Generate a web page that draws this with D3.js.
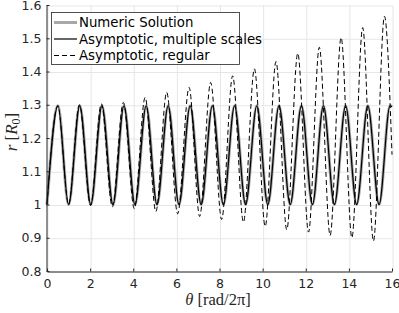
<!DOCTYPE html>
<html>
<head>
<meta charset="utf-8">
<script src="https://cdnjs.cloudflare.com/ajax/libs/d3/7.8.5/d3.min.js"></script>
<style>
  body { margin: 0; background: #fff; }
  svg { display: block; }
</style>
</head>
<body>
<div id="chart"></div>
<script>
// extrema (theta in rad/2pi, r in R0)
var numericTheta = [0, 0.51, 1.0, 1.52, 2.03, 2.55, 3.06, 3.57, 4.08, 4.6, 5.1, 5.62, 6.12, 6.64, 7.15, 7.67, 8.18, 8.7, 9.21, 9.73, 10.24, 10.76, 11.28, 11.8, 12.31, 12.82, 13.33, 13.85, 14.36, 14.88, 15.4, 15.91, 16];
var numericR = [1.0, 1.297, 1.0, 1.297, 1.0, 1.297, 1.0, 1.297, 1.0, 1.297, 1.0, 1.297, 1.0, 1.297, 1.0, 1.297, 1.0, 1.297, 1.0, 1.297, 1.0, 1.297, 1.0, 1.297, 1.0, 1.297, 1.0, 1.297, 1.0, 1.297, 1.0, 1.297, 1.294];

var multiTheta = [0, 0.51, 1.0, 1.52, 2.03, 2.55, 3.06, 3.57, 4.08, 4.6, 5.1, 5.62, 6.12, 6.64, 7.15, 7.67, 8.18, 8.7, 9.21, 9.73, 10.24, 10.76, 11.28, 11.8, 12.31, 12.82, 13.33, 13.85, 14.36, 14.88, 15.4, 15.91, 16];
var multiR = [1.0, 1.297, 1.0, 1.297, 1.0, 1.297, 1.0, 1.297, 1.0, 1.297, 1.0, 1.297, 1.0, 1.297, 1.0, 1.297, 1.0, 1.297, 1.0, 1.297, 1.0, 1.297, 1.0, 1.297, 1.0, 1.297, 1.0, 1.297, 1.0, 1.297, 1.0, 1.297, 1.294];

var regularTheta = [0, 0.5, 1.0, 1.5, 2.02, 2.52, 3.03, 3.54, 4.05, 4.55, 5.05, 5.55, 6.06, 6.59, 7.08, 7.59, 8.1, 8.61, 9.11, 9.62, 10.12, 10.62, 11.12, 11.63, 12.13, 12.63, 13.13, 13.64, 14.14, 14.64, 15.14, 15.65, 16];
var regularR = [1.0, 1.297, 1.0, 1.3, 0.997, 1.303, 0.993, 1.307, 0.987, 1.322, 0.979, 1.337, 0.972, 1.352, 0.964, 1.367, 0.955, 1.387, 0.947, 1.408, 0.934, 1.43, 0.924, 1.455, 0.917, 1.473, 0.907, 1.502, 0.9, 1.532, 0.89, 1.566, 1.15];

var xTicks = [0, 2, 4, 6, 8, 10, 12, 14, 16];
var yTicks = [0.8, 0.9, 1.0, 1.1, 1.2, 1.3, 1.4, 1.5, 1.6];
var legendLabels = ["Numeric Solution", "Asymptotic, multiple scales", "Asymptotic, regular"];

var width = 399;
var height = 313;
var plotLeft = 47, plotRight = 392, plotTop = 5, plotBottom = 271;
var sans = "'DejaVu Sans', 'Liberation Sans', sans-serif";
var serif = "'Liberation Serif', 'DejaVu Serif', serif";

var svg = d3
  .select("#chart")
  .append("svg")
  .attr("width", width)
  .attr("height", height);

var x = d3.scaleLinear().domain([0, 16]).range([plotLeft, plotRight]);
var y = d3.scaleLinear().domain([0.8, 1.6]).range([plotBottom, plotTop]);

// grid
svg.append("g")
  .attr("transform", "translate(0.5," + plotBottom + ")")
  .call(d3.axisBottom(x).tickValues(xTicks).tickSize(-(plotBottom - plotTop)).tickFormat(""))
  .call(function(g) {
    g.select(".domain").remove();
    g.selectAll("line").attr("stroke", "#e6e6e6");
  });
svg.append("g")
  .attr("transform", "translate(" + plotLeft + ",0.5)")
  .call(d3.axisLeft(y).tickValues(yTicks).tickSize(-(plotRight - plotLeft)).tickFormat(""))
  .call(function(g) {
    g.select(".domain").remove();
    g.selectAll("line").attr("stroke", "#e6e6e6");
  });

function toPoints(xs, ys) {
  return xs.map(function(d, i) { return [d, ys[i]]; });
}

var line = d3.line()
  .x(function(d) { return x(d[0]); })
  .y(function(d) { return y(d[1]); })
  .curve(d3.curveMonotoneX);

svg.append("path")
  .datum(toPoints(numericTheta, numericR))
  .attr("d", line)
  .attr("fill", "none")
  .attr("stroke", "#a8a8a8")
  .attr("stroke-width", 3);

svg.append("path")
  .datum(toPoints(multiTheta, multiR))
  .attr("d", line)
  .attr("fill", "none")
  .attr("stroke", "#000")
  .attr("stroke-width", 1.2);

svg.append("path")
  .datum(toPoints(regularTheta, regularR))
  .attr("d", line)
  .attr("fill", "none")
  .attr("stroke", "#000")
  .attr("stroke-width", 1)
  .attr("stroke-dasharray", "5,3");

// axes
var xAxis = svg.append("g")
  .attr("transform", "translate(0," + (plotBottom + 0.5) + ")")
  .call(d3.axisBottom(x).tickValues(xTicks).tickSizeInner(-3).tickSizeOuter(0).tickPadding(8));
var yAxis = svg.append("g")
  .attr("transform", "translate(" + (plotLeft - 0.5) + ",0)")
  .call(d3.axisLeft(y).tickValues(yTicks).tickSizeInner(-3).tickSizeOuter(0).tickPadding(5)
    .tickFormat(function(d) { return String(+d.toFixed(1)); }));

[xAxis, yAxis].forEach(function(g) {
  g.select(".domain").attr("stroke", "#262626");
  g.selectAll("line").attr("stroke", "#262626");
  g.selectAll("text")
    .attr("fill", "#262626")
    .style("font-family", sans)
    .style("font-size", "12.5px");
});

// axis titles
var xLabel = svg.append("text")
  .attr("x", 218)
  .attr("y", 305)
  .attr("text-anchor", "middle")
  .style("font-family", serif)
  .style("font-size", "16.5px")
  .attr("fill", "#262626");
xLabel.append("tspan").style("font-style", "italic").text("\u03B8");
xLabel.append("tspan").text(" [rad/2\u03C0]");

var yLabel = svg.append("text")
  .attr("transform", "translate(17,132) rotate(-90)")
  .attr("text-anchor", "middle")
  .style("font-family", serif)
  .style("font-size", "17px")
  .attr("fill", "#262626");
yLabel.append("tspan").style("font-style", "italic").text("r");
yLabel.append("tspan").text(" [");
yLabel.append("tspan").style("font-style", "italic").text("R");
yLabel.append("tspan").style("font-size", "12px").attr("dy", 3).text("0");
yLabel.append("tspan").attr("dy", -3).text("]");

// legend
var legend = svg.append("g");
legend.append("rect")
  .attr("x", 51.5)
  .attr("y", 12.5)
  .attr("width", 188)
  .attr("height", 52)
  .attr("fill", "#fff")
  .attr("stroke", "#262626")
  .attr("stroke-width", 0.8);

var legendStyles = [
  { stroke: "#a8a8a8", width: 3, dash: null },
  { stroke: "#000", width: 1.2, dash: null },
  { stroke: "#000", width: 1, dash: "5,3" }
];

legendLabels.forEach(function(label, i) {
  var yy = 22.5 + i * 16.5;
  legend.append("line")
    .attr("x1", 54)
    .attr("x2", 77)
    .attr("y1", yy)
    .attr("y2", yy)
    .attr("stroke", legendStyles[i].stroke)
    .attr("stroke-width", legendStyles[i].width)
    .attr("stroke-dasharray", legendStyles[i].dash);
  legend.append("text")
    .attr("x", 79)
    .attr("y", yy + 4.5)
    .style("font-family", sans)
    .style("font-size", "13.3px")
    .attr("fill", "#000")
    .text(label);
});
</script>
</body>
</html>
